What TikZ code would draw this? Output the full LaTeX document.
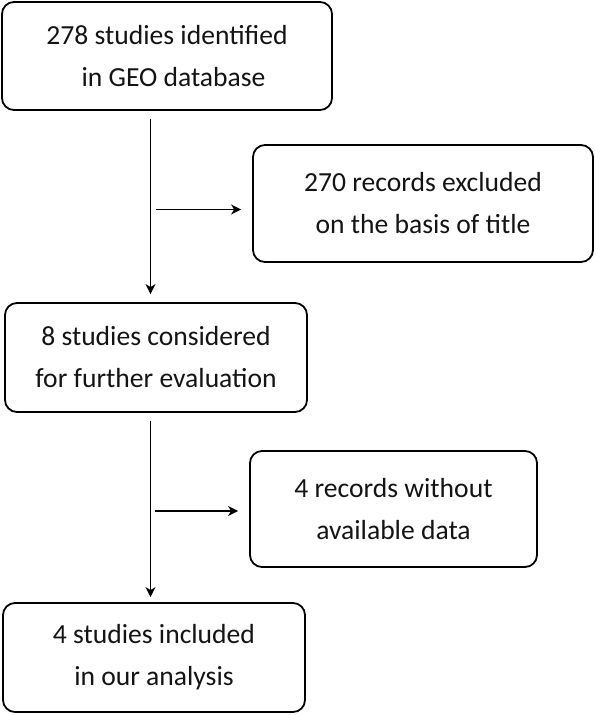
\documentclass[tikz,border=0pt]{standalone}
\usepackage{fontspec}
\setmainfont{Carlito}
\usetikzlibrary{arrows.meta}
\begin{document}
\begin{tikzpicture}[x=1pt,y=-1pt,
  box/.style={draw=black,line width=1.8pt,rounded corners=12pt,align=center,
    inner sep=0pt,text=black!92,font=\fontsize{27.6}{42}\selectfont},
  arr/.style={draw=black,line width=1.6pt,-{Stealth[length=10pt,width=10pt,inset=3pt]}}]
\useasboundingbox (0,0) rectangle (596,715);
\node[box,minimum width=330pt,minimum height=108pt] (box1) at (167,56) {278 studies identified\\\hspace*{13pt}in GEO database};
\node[box,minimum width=340pt,minimum height=117pt] (box2) at (423,203.5) {270 records excluded\\on the basis of title};
\node[box,minimum width=302pt,minimum height=109pt] (box3) at (156,357.5) {8 studies considered\\for further evaluation};
\node[box,minimum width=287pt,minimum height=116pt] (box4) at (393.5,509) {4 records without\\available data};
\node[box,minimum width=302pt,minimum height=109pt] (box5) at (154,657.5) {4 studies included\\in our analysis};
\coordinate (s1) at (150.5,0);
\coordinate (b1) at (156,209.5);
\coordinate (b2) at (155,511);
\draw[arr] ([yshift=-8pt]box1.south -| s1) -- ([yshift=8pt]box3.north -| s1);
\draw[arr] (b1) -- ([xshift=-11pt]b1 -| box2.west);
\draw[arr] ([yshift=-8pt]box3.south -| s1) -- ([yshift=5pt]box5.north -| s1);
\draw[arr] (b2) -- ([xshift=-11pt]b2 -| box4.west);
\end{tikzpicture}
\end{document}
